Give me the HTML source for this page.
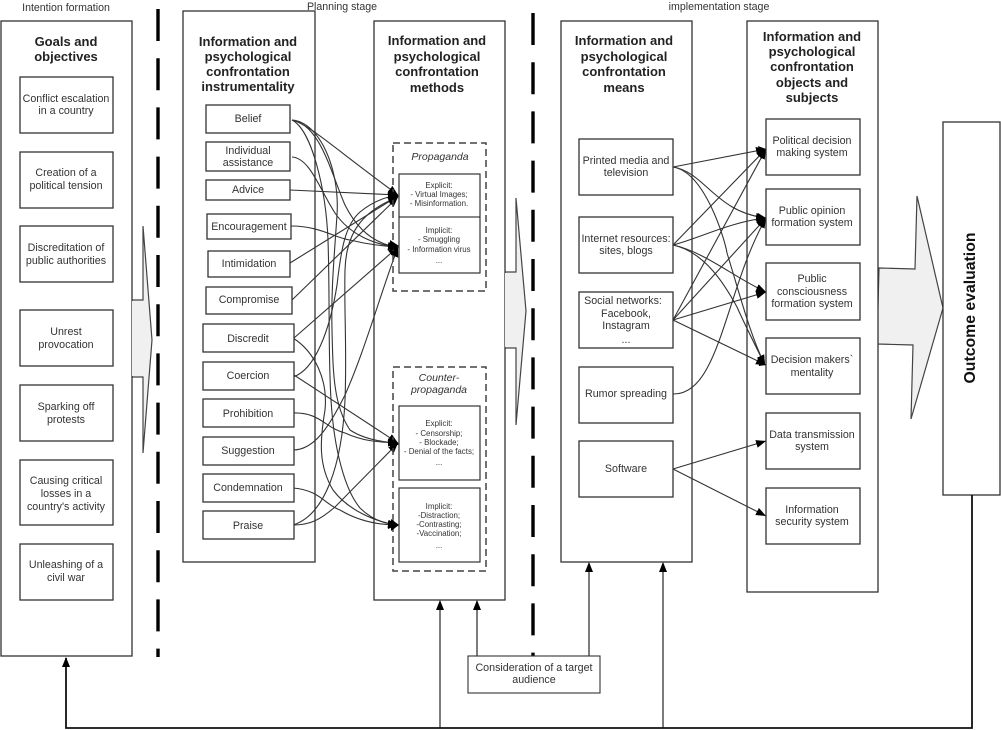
<!DOCTYPE html>
<html><head><meta charset="utf-8"><style>
html,body{margin:0;padding:0;background:#fff}
svg{display:block;filter:blur(.3px)}
text{font-family:"Liberation Sans",sans-serif;fill:#333;text-anchor:middle;font-size:10.7px}
.h{font-weight:bold;font-size:13px;fill:#222}
.s{font-size:7.9px}
.b{fill:#fff;stroke:#333;stroke-width:1.3}
.c{fill:none;stroke:#333;stroke-width:1.1}
.ar{fill:#f0f0f0;stroke:#444;stroke-width:1.2}
.d{stroke:#000;stroke-width:3.4;stroke-dasharray:32 17.2;fill:none}
</style></head><body>
<svg width="1001" height="730" viewBox="0 0 1001 730" xmlns="http://www.w3.org/2000/svg">
<defs>
<marker id="a" markerUnits="userSpaceOnUse" markerWidth="12" markerHeight="10" refX="10" refY="4" orient="auto"><path d="M0,0L10,4L0,8z" fill="#000"/></marker>
</defs>
<rect width="1001" height="730" fill="#fff"/>

<text x="66" y="11" style="font-size:10.6px">Intention formation</text>
<text x="342" y="10" style="font-size:10.6px">Planning stage</text>
<text x="719" y="10" style="font-size:10.6px">implementation stage</text>

<path class="d" d="M158,9V657"/>
<path class="d" d="M533,13V657"/>

<polygon class="ar" points="132,300 143,300 143,226 152,340 143,453 143,377 132,377"/>
<polygon class="ar" points="505,272 516,272 516,198 526,311 516,425 516,348 505,348"/>
<polygon class="ar" points="879,268 915,269 917,196 943,308 911,419 913,345 877,344"/>

<rect class="b" x="1" y="21" width="131" height="635"/>
<rect class="b" x="183" y="11" width="132" height="551"/>
<rect class="b" x="374" y="21" width="131" height="579"/>
<rect class="b" x="561" y="21" width="131" height="541"/>
<rect class="b" x="747" y="21" width="131" height="571"/>
<rect class="b" x="943" y="122" width="57" height="373"/>

<polygon class="ar" style="stroke:none" points="132,301 143,301 143,376 132,376"/>
<polygon class="ar" style="stroke:none" points="505,273 516,273 516,347 505,347"/>

<text class="h" x="66" y="46">Goals and</text><text class="h" x="66" y="61">objectives</text>
<text class="h" x="248" y="46">Information and</text><text class="h" x="248" y="61">psychological</text><text class="h" x="248" y="76">confrontation</text><text class="h" x="248" y="91">instrumentality</text>
<text class="h" x="437" y="45">Information and</text><text class="h" x="437" y="61">psychological</text><text class="h" x="437" y="76">confrontation</text><text class="h" x="437" y="92">methods</text>
<text class="h" x="624" y="45">Information and</text><text class="h" x="624" y="61">psychological</text><text class="h" x="624" y="76">confrontation</text><text class="h" x="624" y="92">means</text>
<text class="h" x="812" y="41">Information and</text><text class="h" x="812" y="56">psychological</text><text class="h" x="812" y="71">confrontation</text><text class="h" x="812" y="87">objects and</text><text class="h" x="812" y="102">subjects</text>

<text transform="translate(975,308) rotate(-90)" style="font-weight:bold;font-size:15.8px;fill:#111">Outcome evaluation</text>

<!-- left boxes -->
<rect class="b" x="20" y="77" width="93" height="56"/><text x="66" y="102">Conflict escalation</text><text x="66" y="114">in a country</text>
<rect class="b" x="20" y="152" width="93" height="56"/><text x="66" y="176">Creation of a</text><text x="66" y="189">political tension</text>
<rect class="b" x="20" y="226" width="93" height="56"/><text x="66" y="251">Discreditation of</text><text x="66" y="264">public authorities</text>
<rect class="b" x="20" y="310" width="93" height="56"/><text x="66" y="335">Unrest</text><text x="66" y="348">provocation</text>
<rect class="b" x="20" y="385" width="93" height="56"/><text x="66" y="410">Sparking off</text><text x="66" y="423">protests</text>
<rect class="b" x="20" y="460" width="93" height="65"/><text x="66" y="484">Causing critical</text><text x="66" y="497">losses in a</text><text x="66" y="510">country's activity</text>
<rect class="b" x="20" y="544" width="93" height="56"/><text x="66" y="568">Unleashing of a</text><text x="66" y="581">civil war</text>

<!-- connectors methods -->
<path class="c" marker-end="url(#a)" d="M292,120 C310,125 330,145 398,195"/>
<path class="c" marker-end="url(#a)" d="M292,120 C320,125 330,170 345,205 C360,235 380,245 398,247"/>
<path class="c" marker-end="url(#a)" d="M292,120 C320,122 340,170 337,215 C334,260 331,290 332,330 C333,370 333,405 350,430 C362,438 380,442 398,443"/>
<path class="c" marker-end="url(#a)" d="M292,120 C312,130 326,190 328,240 C330,300 328,350 331,400 C334,450 345,490 360,508 C372,520 385,524 398,525"/>
<path class="c" marker-end="url(#a)" d="M292,157 C310,158 320,190 335,213 C350,235 375,245 398,247"/>
<path class="c" marker-end="url(#a)" d="M290,190 L398,195"/>
<path class="c" marker-end="url(#a)" d="M291,226 C320,226 335,238 350,240 C370,245 385,246 398,247"/>
<path class="c" marker-end="url(#a)" d="M290,263 L398,196"/>
<path class="c" marker-end="url(#a)" d="M292,300 L398,197"/>
<path class="c" marker-end="url(#a)" d="M294,338 L398,247"/>
<path class="c" marker-end="url(#a)" d="M293,338 C315,352 328,380 325,410 C320,440 318,465 333,490 C348,510 375,522 398,525"/>
<path class="c" marker-end="url(#a)" d="M293,377 C315,370 330,330 337,285 C341,250 345,225 360,212 C372,202 385,197 398,195"/>
<path class="c" marker-end="url(#a)" d="M294,375 L398,443"/>
<path class="c" marker-end="url(#a)" d="M293,413 C320,412 325,428 345,433 C365,442 380,442 398,443"/>
<path class="c" marker-end="url(#a)" d="M293,450 C315,450 330,425 345,395 C365,350 380,295 398,247"/>
<path class="c" marker-end="url(#a)" d="M293,488 C320,490 325,505 340,510 C360,522 380,525 398,525"/>
<path class="c" marker-end="url(#a)" d="M293,525 C310,525 320,520 335,507 L398,443"/>
<path class="c" marker-end="url(#a)" d="M293,525 C325,515 342,465 345,400 C347,350 344,310 345,270 C346,235 360,212 398,197"/>

<!-- col 2 boxes -->
<rect class="b" x="206" y="105" width="84" height="28"/><text x="248" y="122">Belief</text>
<rect class="b" x="206" y="142" width="84" height="29"/><text x="248" y="154">Individual</text><text x="248" y="166">assistance</text>
<rect class="b" x="206" y="180" width="84" height="20"/><text x="248" y="193">Advice</text>
<rect class="b" x="207" y="214" width="84" height="25"/><text x="249" y="230">Encouragement</text>
<rect class="b" x="208" y="251" width="82" height="26"/><text x="249" y="267">Intimidation</text>
<rect class="b" x="206" y="287" width="86" height="27"/><text x="249" y="303">Compromise</text>
<rect class="b" x="203" y="324" width="91" height="28"/><text x="248" y="342">Discredit</text>
<rect class="b" x="203" y="362" width="91" height="28"/><text x="248" y="379">Coercion</text>
<rect class="b" x="203" y="399" width="91" height="28"/><text x="248" y="417">Prohibition</text>
<rect class="b" x="203" y="437" width="91" height="28"/><text x="248" y="454">Suggestion</text>
<rect class="b" x="203" y="474" width="91" height="28"/><text x="248" y="491">Condemnation</text>
<rect class="b" x="203" y="511" width="91" height="28"/><text x="248" y="529">Praise</text>

<!-- methods -->
<rect x="393" y="143" width="93" height="148" fill="none" stroke="#444" stroke-width="1.5" stroke-dasharray="7 4"/>
<text x="440" y="160" style="font-style:italic;font-size:10.5px">Propaganda</text>
<rect x="399" y="174" width="81" height="99" fill="#fff" stroke="#333" stroke-width="1.2"/>
<line x1="399" y1="217" x2="480" y2="217" stroke="#111"/>
<text class="s" x="439" y="188">Explicit:</text><text class="s" x="439" y="197">- Virtual Images;</text><text class="s" x="439" y="206">- Misinformation.</text>
<text class="s" x="439" y="233">Implicit:</text><text class="s" x="439" y="242">- Smuggling</text><text class="s" x="439" y="252">- Information virus</text><text class="s" x="439" y="263">...</text>

<rect x="393" y="367" width="93" height="204" fill="none" stroke="#444" stroke-width="1.5" stroke-dasharray="7 4"/>
<text x="439" y="381" style="font-style:italic;font-size:10.5px">Counter-</text><text x="439" y="393" style="font-style:italic;font-size:10.5px">propaganda</text>
<rect x="399" y="406" width="81" height="74" fill="#fff" stroke="#333" stroke-width="1.2"/>
<text class="s" x="439" y="426">Explicit:</text><text class="s" x="439" y="436">- Censorship;</text><text class="s" x="439" y="445">- Blockade;</text><text class="s" x="439" y="454">- Denial of the facts;</text><text class="s" x="439" y="465">...</text>
<rect x="399" y="488" width="81" height="74" fill="#fff" stroke="#333" stroke-width="1.2"/>
<text class="s" x="439" y="509">Implicit:</text><text class="s" x="439" y="518">-Distraction;</text><text class="s" x="439" y="527">-Contrasting;</text><text class="s" x="439" y="536">-Vaccination;</text><text class="s" x="439" y="548">...</text>

<!-- connectors means -->
<path class="c" marker-end="url(#a)" d="M673,167 L766,149"/>
<path class="c" marker-end="url(#a)" d="M673,167 C705,172 715,212 766,218"/>
<path class="c" marker-end="url(#a)" d="M673,167 C705,172 725,240 727,253 C740,295 750,335 765,365"/>
<path class="c" marker-end="url(#a)" d="M673,245 L766,149"/>
<path class="c" marker-end="url(#a)" d="M673,245 C700,238 730,222 766,218"/>
<path class="c" marker-end="url(#a)" d="M673,245 C705,252 735,278 766,292"/>
<path class="c" marker-end="url(#a)" d="M673,245 C705,252 725,285 737,307 C745,325 755,345 765,365"/>
<path class="c" marker-end="url(#a)" d="M673,320 L766,149"/>
<path class="c" marker-end="url(#a)" d="M673,320 L766,218"/>
<path class="c" marker-end="url(#a)" d="M673,320 L766,292"/>
<path class="c" marker-end="url(#a)" d="M673,320 L766,365"/>
<path class="c" marker-end="url(#a)" d="M673,394 C720,395 725,290 766,218"/>
<path class="c" marker-end="url(#a)" d="M673,469 L766,441"/>
<path class="c" marker-end="url(#a)" d="M673,469 L766,516"/>

<rect class="b" x="579" y="139" width="94" height="56"/><text x="626" y="164">Printed media and</text><text x="626" y="176">television</text>
<rect class="b" x="579" y="217" width="94" height="56"/><text x="626" y="242">Internet resources:</text><text x="626" y="254">sites, blogs</text>
<rect class="b" x="579" y="292" width="94" height="56"/><text x="623" y="304">Social networks:</text><text x="626" y="317">Facebook,</text><text x="626" y="329">Instagram</text><text x="626" y="343">...</text>
<rect class="b" x="579" y="367" width="94" height="56"/><text x="626" y="397">Rumor spreading</text>
<rect class="b" x="579" y="441" width="94" height="56"/><text x="626" y="472">Software</text>

<rect class="b" x="766" y="119" width="94" height="56"/><text x="812" y="144">Political decision</text><text x="812" y="156">making system</text>
<rect class="b" x="766" y="189" width="94" height="56"/><text x="812" y="214">Public opinion</text><text x="812" y="226">formation system</text>
<rect class="b" x="766" y="263" width="94" height="57"/><text x="812" y="282">Public</text><text x="812" y="295">consciousness</text><text x="812" y="307">formation system</text>
<rect class="b" x="766" y="338" width="94" height="56"/><text x="812" y="363">Decision makers`</text><text x="812" y="376">mentality</text>
<rect class="b" x="766" y="413" width="94" height="56"/><text x="812" y="438">Data transmission</text><text x="812" y="450">system</text>
<rect class="b" x="766" y="488" width="94" height="56"/><text x="812" y="513">Information</text><text x="812" y="525">security system</text>

<!-- arrowheads at end -->
<g fill="#000">
<polygon points="399,196 390,190 391,201"/>
<polygon points="399,246 390,240 390,252"/>
<polygon points="399,444 390,438 390,450"/>
<polygon points="399,525 391,519 391,531"/>
<polygon points="766,149 758,146 760,154"/>
<polygon points="766,218 758,213 758,223"/>
<polygon points="766,292 757,288 758,297"/>
<polygon points="766,365 758,360 759,366"/>
</g>

<!-- feedback -->
<path d="M972,495V728H66V658" fill="none" stroke="#111" stroke-width="1.8"/>
<path class="c" style="stroke:#111" d="M440,728V601"/>
<path class="c" style="stroke:#111" d="M663,728V563"/>
<path class="c" style="stroke:#111" d="M477,656V601"/>
<path class="c" style="stroke:#111" d="M589,656V563"/>
<g fill="#000">
<polygon points="66,657 62,667 70,667"/>
<polygon points="440,600 436,610 444,610"/>
<polygon points="477,600 473,610 481,610"/>
<polygon points="589,562 585,572 593,572"/>
<polygon points="663,562 659,572 667,572"/>
</g>
<rect x="468" y="656" width="132" height="37" fill="#fff" stroke="#333" stroke-width="1.1"/>
<text x="534" y="671">Consideration of a target</text><text x="534" y="683">audience</text>
</svg>
</body></html>
